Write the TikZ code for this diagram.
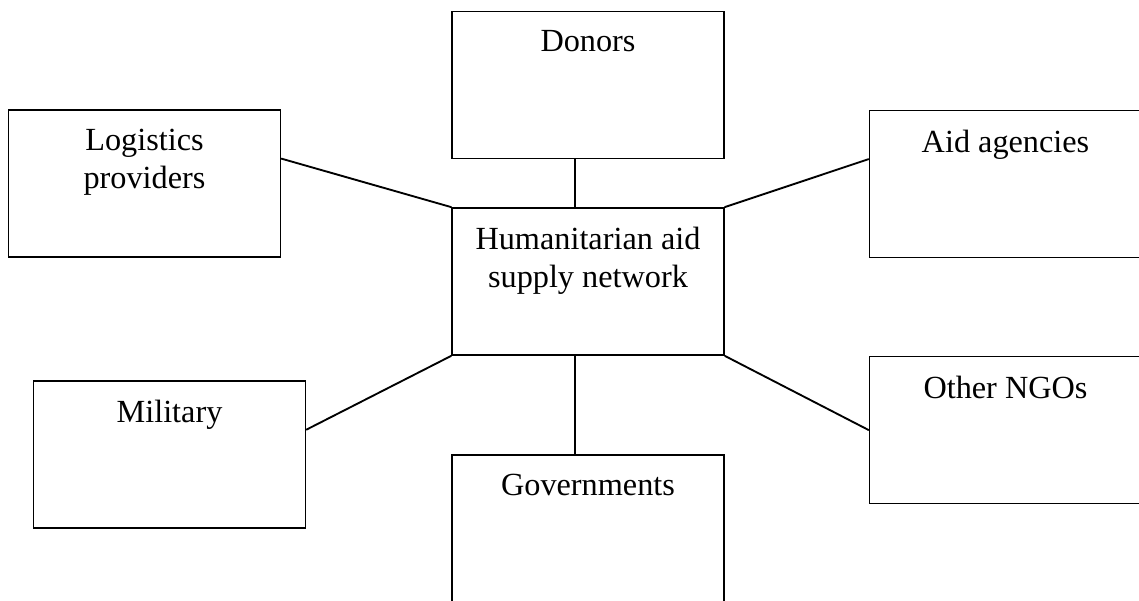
\documentclass[tikz,border=0pt]{standalone}
\usepackage{fontspec}
\setmainfont{Liberation Serif}
\usetikzlibrary{calc}
\begin{document}
\begin{tikzpicture}[x=0.75pt,y=-0.75pt,
  box/.style={draw=black, line width=1.4pt, minimum width=204pt, minimum height=110.25pt, inner sep=0pt},
  lbl/.style={anchor=north, inner sep=0pt, yshift=-15pt, align=center, font=\fontsize{24.2}{28.2}\selectfont},
  link/.style={line width=1.4pt, line cap=round}]
\useasboundingbox (0,0) rectangle (1139,600);
\fill[white] (0,0) rectangle (1139,600);
\clip (0,0) rectangle (1139,600);
\node[box, label={[lbl, name=donorsT]north:Donors}] (donors) at (588,85) {};
\node[box, label={[lbl, name=logT]north:{Logistics\\providers}}] (logistics) at (144.5,183.5) {};
\node[box, label={[lbl, name=aidT]north:Aid agencies}] (aid) at (1005.5,184) {};
\node[box, label={[lbl, name=hubT]north:{Humanitarian aid\\supply network}}] (hub) at (588,281.5) {};
\node[box, label={[lbl, name=milT]north:Military}] (military) at (169.5,454.5) {};
\node[box, label={[lbl, name=ngoT]north:Other NGOs}] (ngos) at (1005.5,430) {};
\node[box, label={[lbl, name=govT]north:Governments}] (govs) at (588,528.5) {};
\draw[link] ($(donors.south west)!0.453!(donors.south east)$) -- ($(hub.north west)!0.453!(hub.north east)$);
\draw[link] ($(govs.north west)!0.453!(govs.north east)$) -- ($(hub.south west)!0.453!(hub.south east)$);
\draw[link] ($(logistics.north east)!0.333!(logistics.south east)$) -- (hub.north west);
\draw[link] ($(aid.north west)!0.333!(aid.south west)$) -- (hub.north east);
\draw[link] ($(military.north east)!0.333!(military.south east)$) -- (hub.south west);
\draw[link] (ngos.west) -- (hub.south east);
\end{tikzpicture}
\end{document}
